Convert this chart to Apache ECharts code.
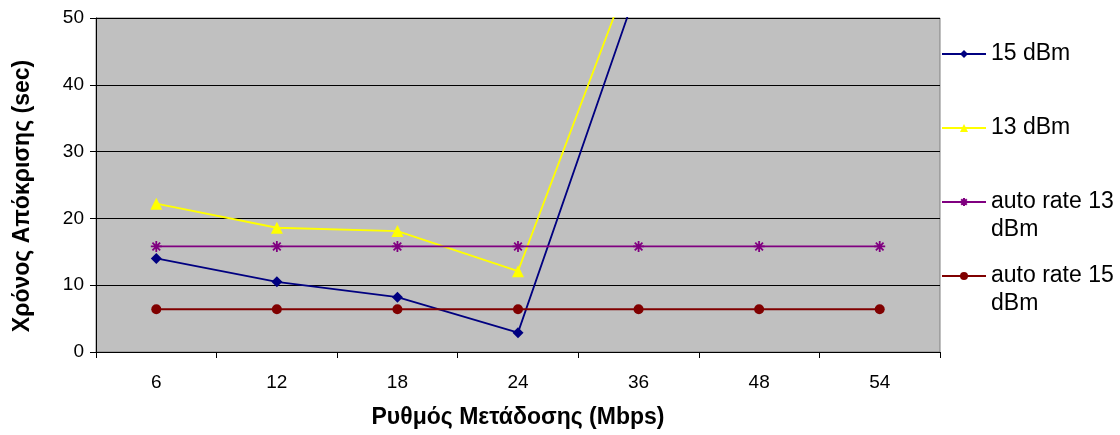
<!DOCTYPE html>
<html>
<head>
<meta charset="utf-8">
<script src="https://cdn.jsdelivr.net/npm/echarts@6/dist/echarts.min.js"></script>
<style>
  html, body { margin: 0; padding: 0; background: #fff; }
  #chart { width: 1120px; height: 435px; }
</style>
</head>
<body>
<div id="chart"></div>
<script>
// Transmission rates (Mbps)
const rates = ['6', '12', '18', '24', '36', '48', '54'];
// Response time (sec) per rate
const dbm15 = [14.0, 10.5, 8.2, 2.9, 55, null, null];
const dbm13 = [22.2, 18.6, 18.1, 12.1, 60, null, null];
const autoRate13 = [15.8, 15.8, 15.8, 15.8, 15.8, 15.8, 15.8];
const autoRate15 = [6.4, 6.4, 6.4, 6.4, 6.4, 6.4, 6.4];
const seriesNames = ['15 dBm', '13 dBm', 'auto rate 13 dBm', 'auto rate 15 dBm'];
// Wrapped legend labels; the leading blank line keeps the first text line level with the icon
const legendLabels = ['15 dBm', '13 dBm', ' \nauto rate 13\ndBm', ' \nauto rate 15\ndBm'];

const FONT = '"Liberation Sans", Arial, sans-serif';

const colors = ['#000080', '#FFFF00', '#800080', '#800000'];
const symbols = ['diamond', 'triangle', 'path://M0,-5L0,5M-5,0L5,0M-3.5,-3.5L3.5,3.5M-3.5,3.5L3.5,-3.5', 'circle'];
const symbolSizes = [11, 12, 11, 10];
const dataSets = [dbm15, dbm13, autoRate13, autoRate15];
const legendIconY = [53, 127, 202, 276];
const LINE_H = 28;

const chart = echarts.init(document.getElementById('chart'), null, { renderer: 'canvas' });

const legends = seriesNames.map((name, i) => {
  const lines = legendLabels[i].split('\n').length;
  return {
    data: [name],
    left: 941,
    top: legendIconY[i] - (lines * LINE_H) / 2 + (lines === 1 ? 1 : 0),
    padding: 0,
    itemWidth: 44,
    itemHeight: 10,
    itemGap: 0,
    selectedMode: false,
    formatter: () => legendLabels[i],
    textStyle: {
      fontFamily: FONT,
      fontSize: 23,
      color: '#000',
      lineHeight: LINE_H
    }
  };
});

const series = seriesNames.map((name, i) => ({
  name,
  type: 'line',
  data: dataSets[i],
  color: colors[i],
  symbol: symbols[i],
  symbolSize: symbolSizes[i],
  showAllSymbol: true,
  connectNulls: false,
  lineStyle: { width: 1.8, color: colors[i] },
  itemStyle: {
    color: colors[i],
    borderColor: colors[i],
    borderWidth: i === 2 ? 1.8 : 0
  },
  emphasis: { disabled: true },
  animation: false
}));

chart.setOption({
  animation: false,
  legend: legends,
  grid: {
    left: 96, right: 180, top: 18, bottom: 83,
    outerBoundsMode: 'none',
    containLabel: false,
    show: true,
    backgroundColor: '#C0C0C0',
    borderColor: '#808080',
    borderWidth: 1
  },
  xAxis: {
    type: 'category',
    data: rates,
    boundaryGap: true,
    name: 'Ρυθμός Μετάδοσης (Mbps)',
    nameLocation: 'middle',
    nameGap: 54,
    nameTextStyle: { fontFamily: FONT, fontSize: 23, fontWeight: 'bold', color: '#000' },
    axisLine: { lineStyle: { color: '#000', width: 1 } },
    axisTick: { show: true, inside: false, length: 6, alignWithLabel: false, lineStyle: { color: '#000' } },
    axisLabel: { fontFamily: FONT, fontSize: 19, color: '#000', margin: 21 },
    splitLine: { show: false }
  },
  yAxis: {
    type: 'value',
    min: 0, max: 50, interval: 10,
    name: 'Χρόνος Απόκρισης (sec)',
    nameLocation: 'middle',
    nameGap: 62,
    nameTextStyle: { fontFamily: FONT, fontSize: 23, fontWeight: 'bold', color: '#000', padding: [0, 22, 0, 0] },
    axisLine: { show: true, lineStyle: { color: '#000', width: 1 } },
    axisTick: { show: true, inside: false, length: 6, lineStyle: { color: '#000' } },
    axisLabel: { fontFamily: FONT, fontSize: 19, color: '#000', margin: 12 },
    splitLine: { show: true, lineStyle: { color: '#000', width: 1 } }
  },
  series
});
</script>
</body>
</html>
